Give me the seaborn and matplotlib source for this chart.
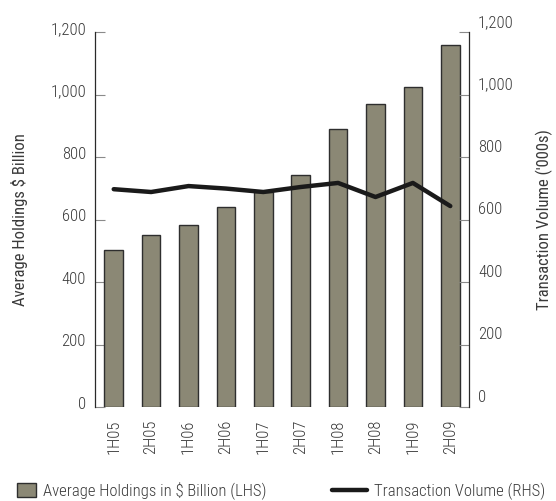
import matplotlib
matplotlib.use("Agg")
from matplotlib import pyplot as plt
from matplotlib.patches import Patch
from matplotlib.lines import Line2D
import matplotlib.transforms as mtransforms
import pandas as pd
import seaborn as sns

periods = ["1H05", "2H05", "1H06", "2H06", "1H07", "2H07", "1H08", "2H08", "1H09", "2H09"]
holdings = [505, 550, 585, 640, 690, 745, 890, 970, 1025, 1160]
volume = [698, 689, 708, 700, 689, 705, 718, 673, 718, 644]
y_ticks = [0, 200, 400, 600, 800, 1000, 1200]

df = pd.DataFrame({"period": periods, "holdings": holdings, "volume": volume})

sns.set_style("white")
plt.rcParams["font.family"] = ["Roboto Condensed", "Liberation Sans", "DejaVu Sans"]
plt.rcParams["font.weight"] = "light"
fs = 12

fig = plt.figure(figsize=(5.56, 5.01), dpi=100)
ax = fig.add_axes([0.1709, 0.187, 0.6726, 0.7485])

# bars - LHS
sns.barplot(data=df, x="period", y="holdings", ax=ax, color="#8b8875",
            saturation=1, width=0.5, edgecolor="#2e2e2e", linewidth=1)

# line - RHS
ax2 = ax.twinx()
sns.lineplot(data=df, x="period", y="volume", ax=ax2, color="#1a1a1a",
             linewidth=3.2, sort=False)

txt = "#3a3a3a"
for a in (ax, ax2):
    a.set_ylim(0, 1200)
    a.set_yticks(y_ticks)
    a.set_yticklabels([f"{v:,}" for v in y_ticks])
    a.set_xlim(-0.5, 9.5)
    a.tick_params(axis="y", direction="in", length=7, width=0.8,
                  color="#8a8a8a", labelcolor=txt, labelsize=fs, pad=6.5)
    for s in ("top", "bottom"):
        a.spines[s].set_visible(False)
    a.set_xlabel("")

ax.spines["right"].set_visible(False)
ax.spines["left"].set_color("#2a2a2a")
ax.spines["left"].set_linewidth(0.9)
ax2.spines["left"].set_visible(False)
ax2.spines["right"].set_color("#2a2a2a")
ax2.spines["right"].set_linewidth(0.9)

ax.set_xticks(range(len(periods)))
ax.set_xticklabels(periods, rotation=90)
ax.tick_params(axis="x", length=0, pad=9, labelcolor=txt, labelsize=fs)
ax2.tick_params(axis="x", length=0)

ax.set_ylabel("Average Holdings $ Billion", color=txt, fontsize=fs)
ax.yaxis.set_label_coords(-0.18, 0.5)
ax2.set_ylabel("Transaction Volume ('000s)", color=txt, fontsize=fs,
               rotation=90)
ax2.yaxis.set_label_coords(1.178, 0.5)

# nudge tick labels up like the original
up_l = mtransforms.ScaledTranslation(0, 4.5 / 100, fig.dpi_scale_trans)
up_r = mtransforms.ScaledTranslation(0, 11.5 / 100, fig.dpi_scale_trans)
for lab in ax.get_yticklabels():
    lab.set_transform(lab.get_transform() + up_l)
for lab in ax2.get_yticklabels():
    lab.set_transform(lab.get_transform() + up_r)

# legend
h1 = Patch(facecolor="#8b8875", edgecolor="#2e2e2e", linewidth=1)
h2 = Line2D([], [], color="#1a1a1a", linewidth=3.2)
fig.legend([h1], ["Average Holdings in $ Billion (LHS)"], loc="center left",
           bbox_to_anchor=(0.018, 0.02), frameon=False, handlelength=1.15,
           handleheight=0.95, handletextpad=0.4, borderaxespad=0,
           labelcolor=txt, fontsize=fs)
fig.legend([h2], ["Transaction Volume (RHS)"], loc="center right",
           bbox_to_anchor=(0.992, 0.02), frameon=False, handlelength=2.1,
           handletextpad=0.4, borderaxespad=0, labelcolor=txt, fontsize=fs)

fig.savefig("out.png", dpi=100)
